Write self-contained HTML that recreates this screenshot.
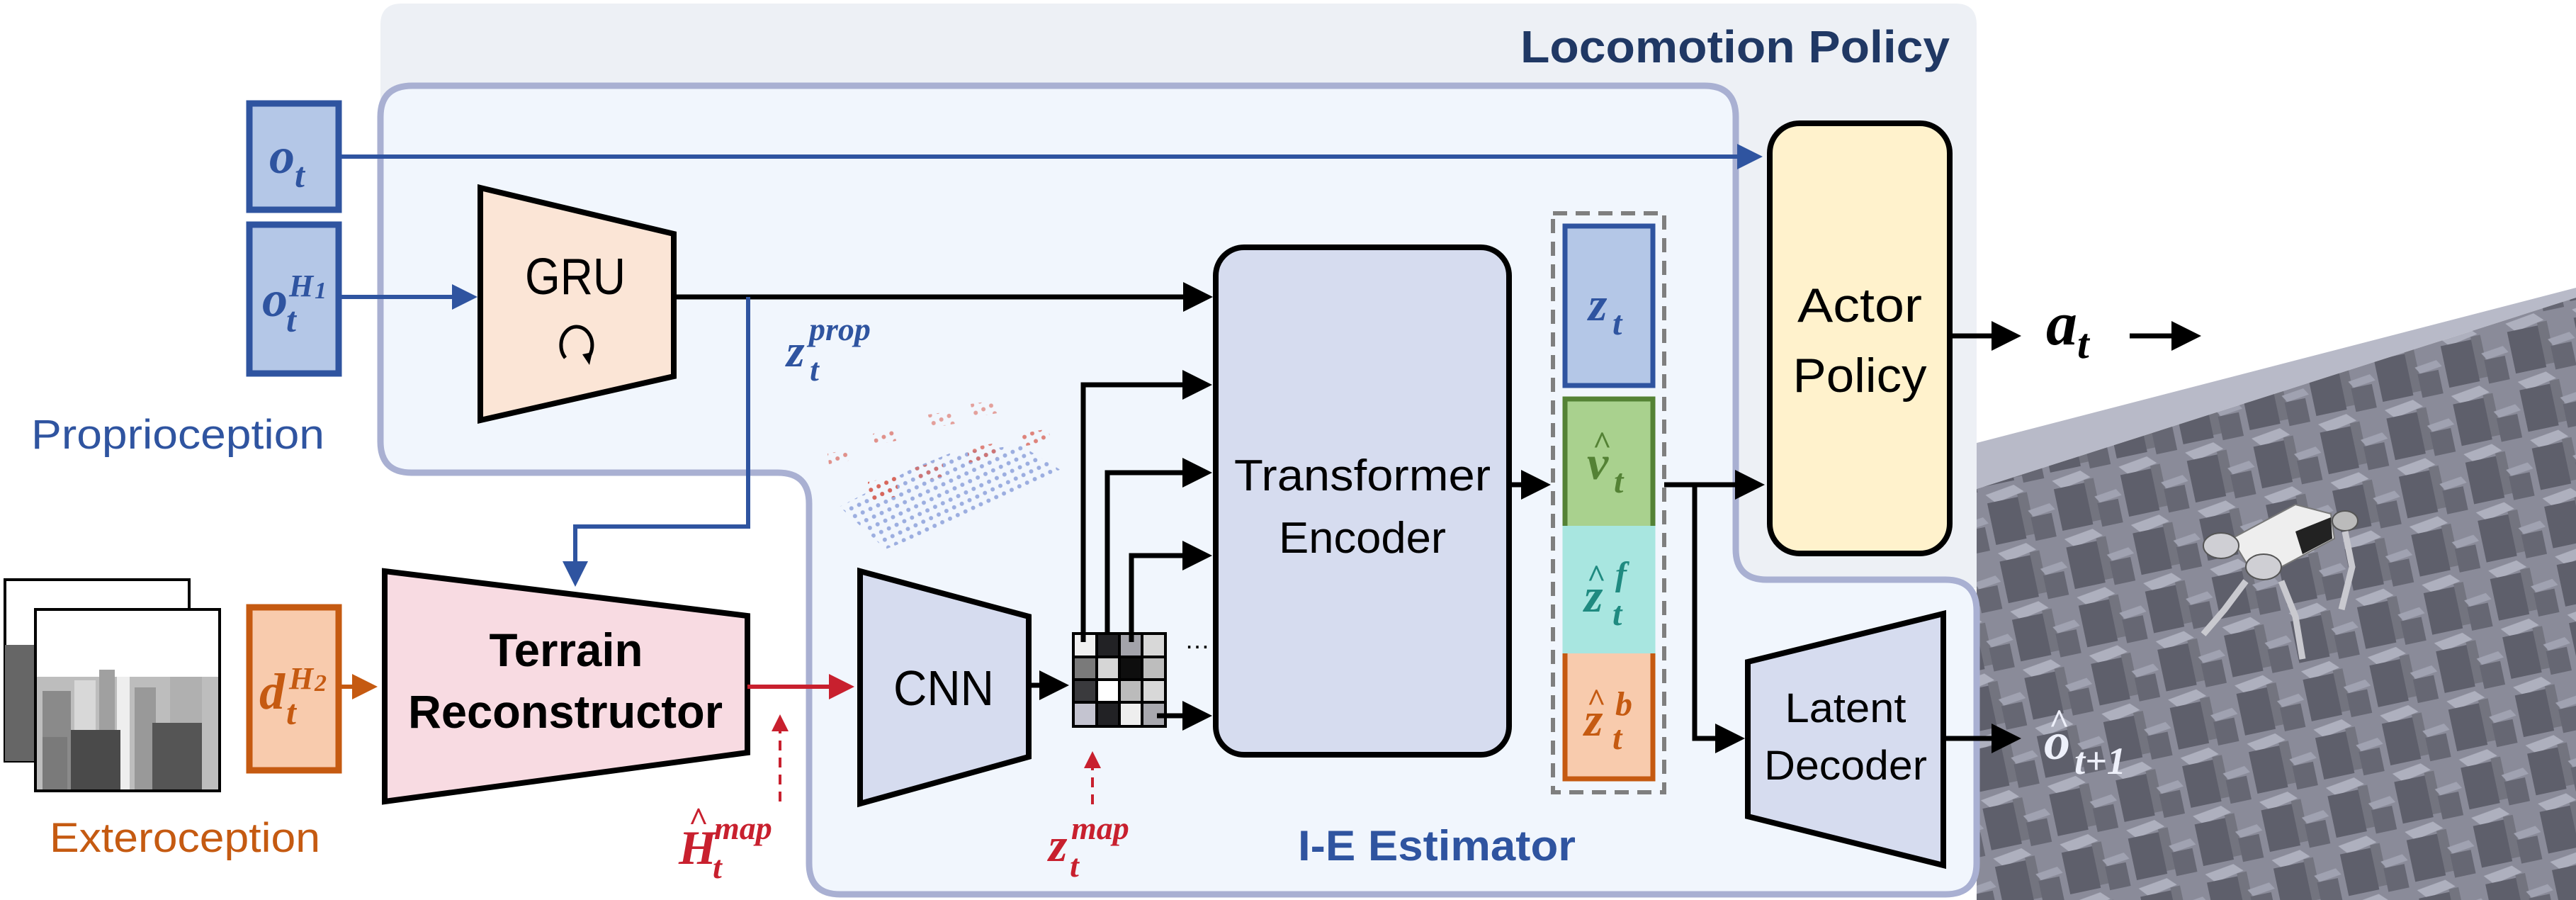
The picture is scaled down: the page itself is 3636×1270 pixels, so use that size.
<!DOCTYPE html>
<html><head><meta charset="utf-8"><style>
html,body{margin:0;padding:0;background:#fff;}
svg{display:block;}
.s{font-family:"Liberation Sans",sans-serif;}
.m{font-family:"Liberation Serif",serif;font-style:italic;font-weight:bold;}
</style></head><body>
<svg width="3636" height="1270" viewBox="0 0 3636 1270" xmlns="http://www.w3.org/2000/svg">
<defs>
<marker id="ak" markerWidth="6" markerHeight="6" refX="5" refY="3" orient="auto" markerUnits="strokeWidth"><path d="M0,0 L6,3 L0,6 z" fill="#000"/></marker>
<marker id="ab" markerWidth="6" markerHeight="6" refX="5" refY="3" orient="auto" markerUnits="strokeWidth"><path d="M0,0 L6,3 L0,6 z" fill="#2f54a0"/></marker>
<marker id="ar" markerWidth="6" markerHeight="6" refX="5" refY="3" orient="auto" markerUnits="strokeWidth"><path d="M0,0 L6,3 L0,6 z" fill="#c8202e"/></marker>
<marker id="ao" markerWidth="6" markerHeight="6" refX="5" refY="3" orient="auto" markerUnits="strokeWidth"><path d="M0,0 L6,3 L0,6 z" fill="#c55a11"/></marker>
<pattern id="terr" width="96" height="84" patternUnits="userSpaceOnUse" patternTransform="rotate(-12)">
<rect width="96" height="84" fill="#8a8b99"/>
<polygon points="4,6 46,0 58,12 16,20" fill="#aeb0be"/>
<rect x="4" y="18" width="44" height="60" fill="#5e5f6b"/>
<rect x="48" y="14" width="14" height="60" fill="#73747f"/>
<polygon points="58,40 90,36 96,46 64,50" fill="#a0a2b1"/>
<rect x="60" y="50" width="30" height="34" fill="#666773"/>
</pattern>
<pattern id="dots" width="12" height="12" patternUnits="userSpaceOnUse" patternTransform="rotate(-25)">
<circle cx="6" cy="6" r="3" fill="#7f96d6"/>
</pattern>
<pattern id="rdots" width="12" height="12" patternUnits="userSpaceOnUse" patternTransform="rotate(-25)">
<circle cx="6" cy="6" r="3" fill="#d9665a"/>
</pattern>
</defs>

<!-- terrain render -->
<polygon points="2790,625 3636,406 3636,420 2790,690" fill="#b8bac8"/>
<polygon points="2790,690 3636,420 3636,1270 2790,1270" fill="url(#terr)"/>
<!-- robot -->
<g>
<path d="M3150,760 L3240,712 L3290,725 L3295,760 L3220,800 L3180,810 Z" fill="#eeeeee" stroke="#777" stroke-width="2"/>
<path d="M3240,750 L3290,730 L3292,760 L3250,782 Z" fill="#222"/>
<ellipse cx="3135" cy="770" rx="25" ry="18" fill="#cfcfd4" stroke="#555" stroke-width="2"/>
<ellipse cx="3195" cy="800" rx="25" ry="18" fill="#cfcfd4" stroke="#555" stroke-width="2"/>
<ellipse cx="3310" cy="735" rx="18" ry="14" fill="#bbb" stroke="#555" stroke-width="2"/>
<path d="M3170,820 L3140,860 L3110,895 M3220,820 L3240,870 L3250,930 M3310,750 L3320,800 L3305,860" stroke="#c9c9cf" stroke-width="9" fill="none"/>
</g>

<!-- gray outer locomotion box -->
<path d="M567,5 H2760 Q2790,5 2790,35 V830 H2400 V640 H537 V35 Q537,5 567,5 Z" fill="#edf0f5"/>
<!-- I-E estimator box -->
<path d="M582,121 H2406 Q2450,121 2450,165 V775 Q2450,818 2494,818 H2746 Q2790,818 2790,862 V1218 Q2790,1262 2746,1262 H1186 Q1142,1262 1142,1218 V711 Q1142,667 1098,667 H581 Q537,667 537,623 V165 Q537,121 582,121 Z" fill="#f1f6fd" stroke="#a9b0d2" stroke-width="9"/>

<text class="s" x="2146" y="88" font-size="64" font-weight="bold" fill="#203864" textLength="606" lengthAdjust="spacingAndGlyphs">Locomotion Policy</text>
<text class="s" x="1832" y="1214" font-size="60" font-weight="bold" fill="#2f54a0" textLength="392" lengthAdjust="spacingAndGlyphs">I-E Estimator</text>

<!-- input boxes -->
<rect x="352" y="146" width="126" height="150" fill="#b4c7e7" stroke="#2f54a0" stroke-width="9"/>
<text class="m" x="380" y="244" font-size="72" fill="#2f54a0">o</text><text class="m" x="416" y="264" font-size="50" fill="#2f54a0">t</text>
<rect x="352" y="317" width="126" height="210" fill="#b4c7e7" stroke="#2f54a0" stroke-width="9"/>
<text class="m" x="370" y="446" font-size="72" fill="#2f54a0">o</text><text class="m" x="408" y="418" font-size="44" fill="#2f54a0">H</text><text class="m" x="444" y="421" font-size="34" fill="#2f54a0" font-style="normal">1</text><text class="m" x="404" y="468" font-size="50" fill="#2f54a0">t</text>
<rect x="352" y="857" width="126" height="230" fill="#f8cbad" stroke="#c55a11" stroke-width="9"/>
<text class="m" x="366" y="1000" font-size="72" fill="#c55a11">d</text><text class="m" x="408" y="972" font-size="44" fill="#c55a11">H</text><text class="m" x="444" y="975" font-size="34" fill="#c55a11" font-style="normal">2</text><text class="m" x="404" y="1022" font-size="50" fill="#c55a11">t</text>

<text class="s" x="44" y="633" font-size="58" fill="#2f54a0" textLength="414" lengthAdjust="spacingAndGlyphs">Proprioception</text>
<text class="s" x="70" y="1202" font-size="58" fill="#c55a11" textLength="382" lengthAdjust="spacingAndGlyphs">Exteroception</text>

<!-- depth images -->
<rect x="7" y="818" width="260" height="256" fill="#fff" stroke="#000" stroke-width="4"/>
<rect x="7" y="910" width="42" height="164" fill="#666"/>
<rect x="50" y="860" width="260" height="256" fill="#fff" stroke="#000" stroke-width="4"/>
<g>
<rect x="52" y="955" width="256" height="159" fill="#bdbdbd"/>
<rect x="60" y="975" width="40" height="139" fill="#8a8a8a"/>
<rect x="105" y="960" width="30" height="154" fill="#d8d8d8"/>
<rect x="140" y="945" width="22" height="169" fill="#a0a0a0"/>
<rect x="165" y="955" width="18" height="159" fill="#eee"/>
<rect x="190" y="970" width="30" height="144" fill="#999"/>
<rect x="240" y="955" width="45" height="159" fill="#b0b0b0"/>
<rect x="100" y="1030" width="70" height="84" fill="#4a4a4a"/>
<rect x="215" y="1020" width="70" height="94" fill="#555"/>
<rect x="60" y="1040" width="35" height="74" fill="#7a7a7a"/>
</g>

<!-- GRU -->
<polygon points="678,265 951,330 951,531 678,593" fill="#fbe5d6" stroke="#000" stroke-width="8"/>
<text class="s" x="812" y="415" font-size="72" text-anchor="middle" textLength="142" lengthAdjust="spacingAndGlyphs">GRU</text>
<path d="M798,505 A22,26 0 1 1 828,507" fill="none" stroke="#000" stroke-width="5"/>
<path d="M822,500 L836,497 L832,515 Z" fill="#000"/>

<!-- lines -->
<line x1="478" y1="221" x2="2482" y2="221" stroke="#2f54a0" stroke-width="6" marker-end="url(#ab)"/>
<line x1="478" y1="419" x2="668" y2="419" stroke="#2f54a0" stroke-width="6" marker-end="url(#ab)"/>
<line x1="951" y1="419" x2="1705" y2="419" stroke="#000" stroke-width="7" marker-end="url(#ak)"/>
<polyline points="1056,419 1056,743 812,743 812,822" fill="none" stroke="#2f54a0" stroke-width="6" marker-end="url(#ab)"/>
<text class="m" x="1110" y="517" font-size="66" fill="#2f54a0">z</text><text class="m" x="1142" y="480" font-size="46" fill="#2f54a0">prop</text><text class="m" x="1143" y="537" font-size="46" fill="#2f54a0">t</text>

<!-- point cloud -->
<polygon points="1185,715 1290,660 1340,640 1440,628 1500,665 1340,740 1250,775" fill="url(#dots)" opacity="0.75"/>
<polygon points="1225,680 1265,672 1268,700 1228,708" fill="url(#rdots)"/>
<polygon points="1290,660 1330,650 1333,672 1293,680" fill="url(#rdots)" opacity="0.8"/>
<polygon points="1365,633 1405,625 1408,645 1368,653" fill="url(#rdots)" opacity="0.8"/>
<polygon points="1168,640 1195,635 1198,650 1170,655" fill="url(#rdots)" opacity="0.7"/>
<polygon points="1232,612 1262,606 1265,622 1235,628" fill="url(#rdots)" opacity="0.7"/>
<polygon points="1310,585 1345,580 1348,598 1313,604" fill="url(#rdots)" opacity="0.6"/>
<polygon points="1370,570 1405,565 1408,583 1373,589" fill="url(#rdots)" opacity="0.6"/>
<polygon points="1440,612 1480,605 1483,623 1443,630" fill="url(#rdots)" opacity="0.8"/>

<!-- Terrain reconstructor -->
<polygon points="543,806 1055,869 1055,1062 543,1131" fill="#f8dbe2" stroke="#000" stroke-width="8"/>
<text class="s" x="799" y="940" font-size="66" font-weight="bold" text-anchor="middle" textLength="217" lengthAdjust="spacingAndGlyphs">Terrain</text>
<text class="s" x="798" y="1027" font-size="66" font-weight="bold" text-anchor="middle" textLength="444" lengthAdjust="spacingAndGlyphs">Reconstructor</text>
<line x1="478" y1="969" x2="527" y2="969" stroke="#c55a11" stroke-width="6" marker-end="url(#ao)"/>
<line x1="1055" y1="969" x2="1200" y2="969" stroke="#c8202e" stroke-width="6" marker-end="url(#ar)"/>
<line x1="1101" y1="1131" x2="1101" y2="1012" stroke="#c8202e" stroke-width="4" stroke-dasharray="14,10" marker-end="url(#ar)"/>
<text class="m" x="958" y="1219" font-size="68" fill="#c8202e">H</text><text x="972" y="1172" font-family="Liberation Serif" font-size="48" font-weight="bold" fill="#c8202e">^</text><text class="m" x="1008" y="1184" font-size="46" fill="#c8202e">map</text><text class="m" x="1006" y="1239" font-size="46" fill="#c8202e">t</text>

<!-- CNN -->
<polygon points="1214,806 1452,870 1452,1068 1214,1134" fill="#d6dcef" stroke="#000" stroke-width="8"/>
<text class="s" x="1332" y="995" font-size="70" text-anchor="middle" textLength="142" lengthAdjust="spacingAndGlyphs">CNN</text>
<line x1="1452" y1="967" x2="1502" y2="967" stroke="#000" stroke-width="7" marker-end="url(#ak)"/>

<!-- grid -->
<g stroke="none">
<rect x="1513" y="892" width="134" height="135" fill="#000"/>
<rect x="1517" y="896" width="29" height="29" fill="#f0f0f0"/><rect x="1550" y="896" width="28" height="29" fill="#222225"/><rect x="1582" y="896" width="28" height="29" fill="#a3a3aa"/><rect x="1614" y="896" width="29" height="29" fill="#d8d8d8"/>
<rect x="1517" y="929" width="29" height="28" fill="#7a7a7a"/><rect x="1550" y="929" width="28" height="28" fill="#d6d6d6"/><rect x="1582" y="929" width="28" height="28" fill="#0e0e0e"/><rect x="1614" y="929" width="29" height="28" fill="#bdbdbd"/>
<rect x="1517" y="961" width="29" height="28" fill="#3a3a3d"/><rect x="1550" y="961" width="28" height="28" fill="#fff"/><rect x="1582" y="961" width="28" height="28" fill="#bbb"/><rect x="1614" y="961" width="29" height="28" fill="#d8d8d8"/>
<rect x="1517" y="993" width="29" height="30" fill="#c4c4d0"/><rect x="1550" y="993" width="28" height="30" fill="#222225"/><rect x="1582" y="993" width="28" height="30" fill="#eeeeee"/><rect x="1614" y="993" width="29" height="30" fill="#a8a8ae"/>
</g>
<text class="s" x="1672" y="915" font-size="36">…</text>
<polyline points="1529,906 1529,543 1704,543" fill="none" stroke="#000" stroke-width="7" marker-end="url(#ak)"/>
<polyline points="1563,896 1563,667 1704,667" fill="none" stroke="#000" stroke-width="7" marker-end="url(#ak)"/>
<polyline points="1597,906 1597,784 1704,784" fill="none" stroke="#000" stroke-width="7" marker-end="url(#ak)"/>
<polyline points="1633,1010 1704,1010" fill="none" stroke="#000" stroke-width="7" marker-end="url(#ak)"/>
<line x1="1542" y1="1135" x2="1542" y2="1064" stroke="#c8202e" stroke-width="4" stroke-dasharray="14,10" marker-end="url(#ar)"/>
<text class="m" x="1480" y="1215" font-size="68" fill="#c8202e">z</text><text class="m" x="1512" y="1184" font-size="46" fill="#c8202e">map</text><text class="m" x="1510" y="1237" font-size="46" fill="#c8202e">t</text>

<!-- Transformer -->
<rect x="1716" y="349" width="414" height="716" rx="40" fill="#d6dcef" stroke="#000" stroke-width="8"/>
<text class="s" x="1923" y="692" font-size="62" text-anchor="middle" textLength="362" lengthAdjust="spacingAndGlyphs">Transformer</text>
<text class="s" x="1923" y="780" font-size="62" text-anchor="middle" textLength="236" lengthAdjust="spacingAndGlyphs">Encoder</text>
<line x1="2130" y1="684" x2="2182" y2="684" stroke="#000" stroke-width="7" marker-end="url(#ak)"/>

<!-- latent column -->
<rect x="2192" y="301" width="157" height="817" fill="none" stroke="#7f7f7f" stroke-width="6" stroke-dasharray="20,12"/>
<rect x="2209" y="319" width="124" height="225" fill="#b4c7e7" stroke="#2f54a0" stroke-width="7"/>
<text class="m" x="2242" y="452" font-size="68" fill="#2f54a0">z</text><text class="m" x="2276" y="472" font-size="48" fill="#2f54a0">t</text>
<rect x="2209" y="563" width="124" height="180" fill="#a9d18e"/>
<rect x="2209" y="742" width="124" height="180" fill="#a8e6e0"/>
<rect x="2209" y="922" width="124" height="177" fill="#f8cbad"/>
<path d="M2209,742 V563 H2333 V742" fill="none" stroke="#548235" stroke-width="7"/>
<path d="M2209,922 V1099 H2333 V922" fill="none" stroke="#c55a11" stroke-width="7"/>
<path d="M2209,742 V922 M2333,742 V922" stroke="#a8e6e0" stroke-width="7"/>
<text class="m" x="2240" y="676" font-size="68" fill="#548235">v</text><text x="2248" y="640" font-family="Liberation Serif" font-size="46" font-weight="bold" fill="#548235">^</text><text class="m" x="2278" y="695" font-size="48" fill="#548235">t</text>
<text class="m" x="2236" y="863" font-size="68" fill="#1f8a80">z</text><text x="2240" y="828" font-family="Liberation Serif" font-size="46" font-weight="bold" fill="#1f8a80">^</text><text class="m" x="2280" y="826" font-size="48" fill="#1f8a80">f</text><text class="m" x="2276" y="882" font-size="48" fill="#1f8a80">t</text>
<text class="m" x="2236" y="1038" font-size="68" fill="#c55a11">z</text><text x="2240" y="1003" font-family="Liberation Serif" font-size="46" font-weight="bold" fill="#c55a11">^</text><text class="m" x="2280" y="1009" font-size="48" fill="#c55a11">b</text><text class="m" x="2276" y="1057" font-size="48" fill="#c55a11">t</text>

<line x1="2349" y1="684" x2="2484" y2="684" stroke="#000" stroke-width="7" marker-end="url(#ak)"/>
<polyline points="2392,684 2392,1042 2456,1042" fill="none" stroke="#000" stroke-width="7" marker-end="url(#ak)"/>

<!-- Actor policy -->
<rect x="2498" y="174" width="254" height="607" rx="42" fill="#fff2cc" stroke="#000" stroke-width="8"/>
<text class="s" x="2625" y="454" font-size="68" text-anchor="middle" textLength="176" lengthAdjust="spacingAndGlyphs">Actor</text>
<text class="s" x="2625" y="553" font-size="68" text-anchor="middle" textLength="189" lengthAdjust="spacingAndGlyphs">Policy</text>
<line x1="2752" y1="474" x2="2846" y2="474" stroke="#000" stroke-width="7" marker-end="url(#ak)"/>
<text class="m" x="2888" y="486" font-size="88" fill="#000">a</text><text class="m" x="2932" y="505" font-size="60" fill="#000">t</text>
<line x1="3006" y1="474" x2="3100" y2="474" stroke="#000" stroke-width="7" marker-end="url(#ak)"/>

<!-- Latent decoder -->
<polygon points="2467,934 2743,866 2743,1221 2467,1152" fill="#d6dcef" stroke="#000" stroke-width="8"/>
<text class="s" x="2605" y="1019" font-size="58" text-anchor="middle" textLength="171" lengthAdjust="spacingAndGlyphs">Latent</text>
<text class="s" x="2605" y="1100" font-size="58" text-anchor="middle" textLength="230" lengthAdjust="spacingAndGlyphs">Decoder</text>
<line x1="2743" y1="1042" x2="2846" y2="1042" stroke="#000" stroke-width="7" marker-end="url(#ak)"/>
<text class="m" x="2885" y="1071" font-size="74" fill="#eef0fa">o</text><text x="2892" y="1035" font-family="Liberation Serif" font-size="50" font-weight="bold" fill="#eef0fa">^</text><text class="m" x="2928" y="1092" font-size="54" fill="#eef0fa">t+1</text>
</svg>
</body></html>
